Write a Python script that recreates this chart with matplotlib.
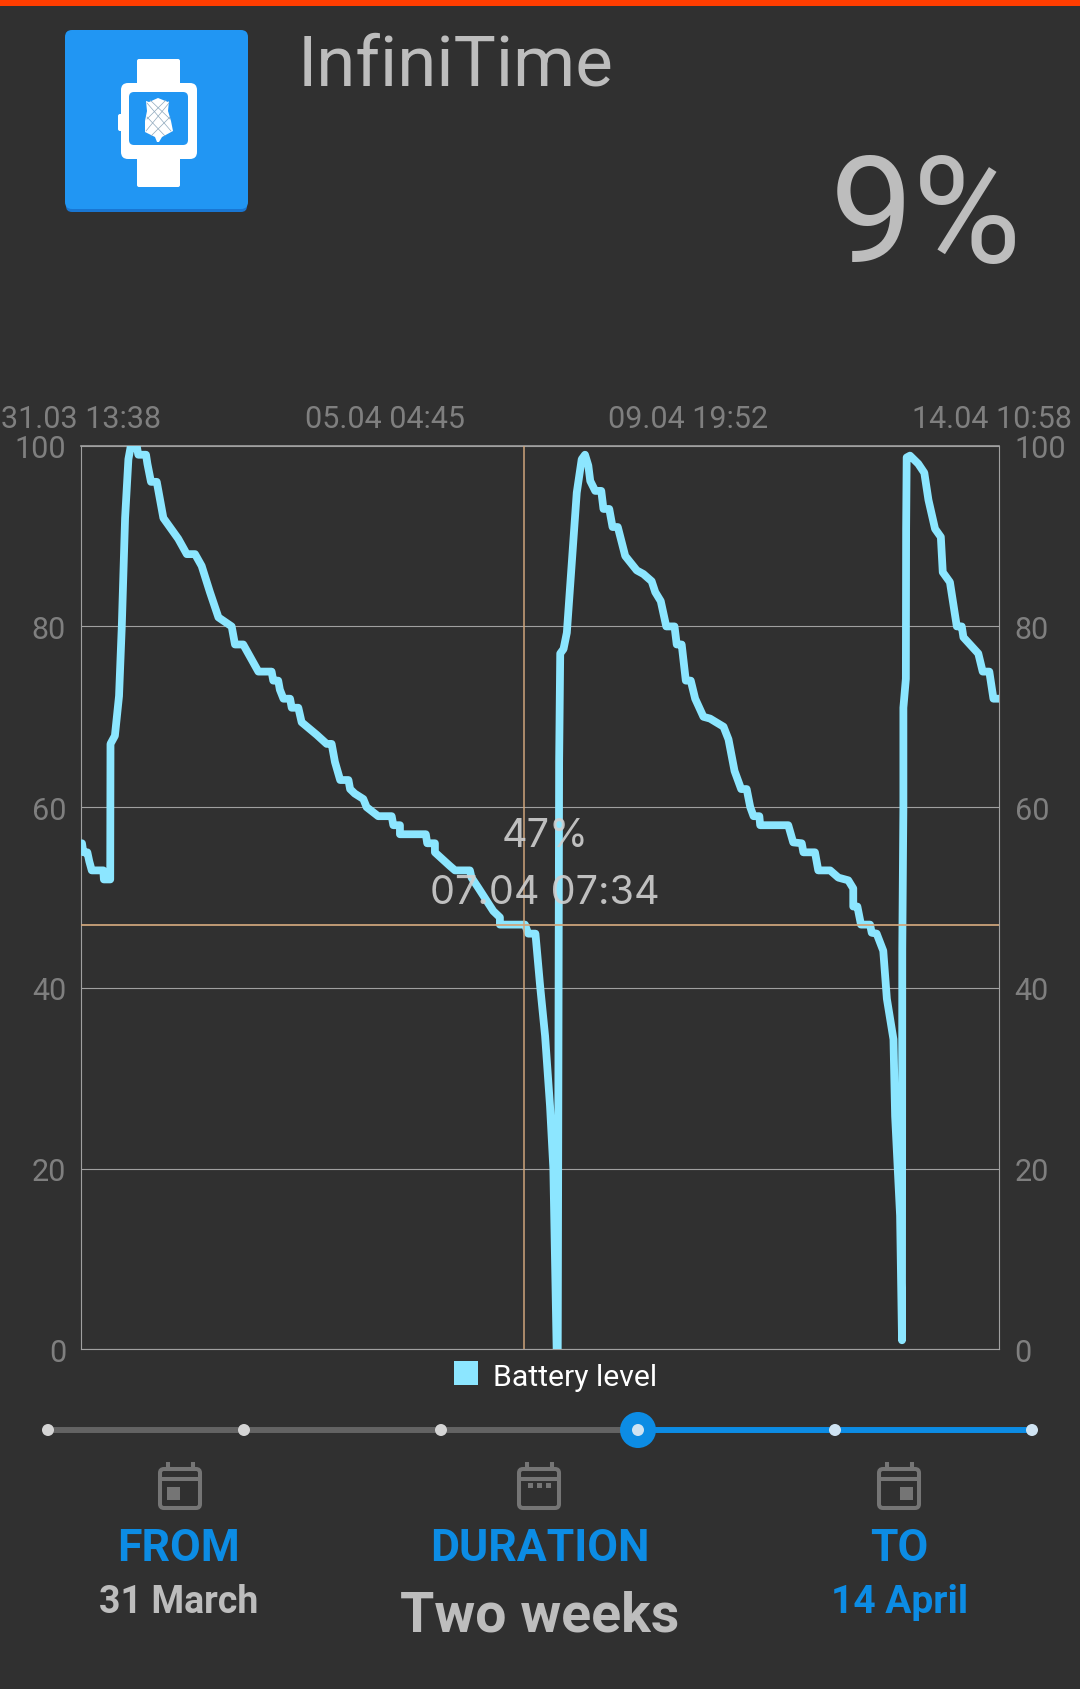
import matplotlib
matplotlib.use("Agg")
import matplotlib.pyplot as plt
from matplotlib.patches import FancyBboxPatch, Rectangle, Polygon, Circle

hours = [0.25, 0.74, 2.2, 2.9, 3.8, 8.0, 8.2, 10.5, 10.6, 12.2, 13.7, 14.7, 15.9, 17.1, 18.0, 20.1, 20.7,
         23.5, 24.0, 25.3, 27.4, 29.8, 35.2, 38.3, 41.3, 43.7, 46.7, 49.8, 54.6, 55.8, 58.8, 64.3, 69.1,
         69.7, 71.5, 72.1, 73.4, 75.8, 76.4, 78.8, 80.0, 85.5, 89.1, 90.9, 92.1, 94.0, 97.0, 97.6, 99.3,
         102.4, 103.6, 107.8, 112.7, 113.3, 115.7, 115.7, 125.1, 125.6, 128.4, 128.4, 133.8, 135.7, 141.1,
         141.7, 144.1, 149.6, 152.0, 152.0, 161.1, 162.3, 164.9, 166.6, 168.4, 170.2, 171.4, 172.6,
         173.0, 173.5, 173.9, 175.1, 176.3, 178.1, 179.9, 181.7, 182.9, 184.1, 184.8, 186.6, 188.8, 189.6,
         191.7, 192.9, 194.8, 197.5, 201.7, 204.1, 207.1, 208.4, 210.4, 212.4, 215.4, 216.2, 218.0, 219.5,
         221.3, 222.9, 225.9, 228.3, 233.2, 235.0, 237.2, 239.6, 241.6, 242.9, 244.1, 246.2, 246.5, 256.7,
         258.5, 261.6, 262.2, 266.4, 267.6, 271.9, 274.9, 278.5, 280.3, 280.3, 281.8, 283.1, 286.4, 287.0,
         288.8, 291.2, 292.5, 294.9, 295.5, 297.3, 298.0, 298.1, 298.5, 298.5, 299.4, 299.5, 299.7, 300.9,
         303.9, 306.1, 307.6, 310.0, 312.1, 312.8, 315.4, 317.9, 319.7, 320.3, 325.7, 327.3, 329.7, 331.2, 333.3]
battery = [56, 55, 55, 54, 53, 53, 52, 52, 67, 67.9, 72.3, 80, 92, 98.5, 100, 100, 99,
           99, 98, 96, 96, 92, 89.7, 88, 88, 86.7, 83.8, 81, 80, 78, 78, 75, 75,
           74, 74, 73, 72, 72, 71, 71, 69.4, 68, 67, 67, 65, 63, 63, 62, 61.5,
           60.9, 60, 59, 59, 58, 58, 57, 57, 56, 56, 55, 53.5, 53, 53,
           52.2, 51.1, 48.5, 47.8, 47, 47, 46, 46, 40.2, 34.7, 26.9, 20, 0,
           0, 65, 77, 77.5, 79.3, 87, 94.8, 98.5, 99, 97.8, 96.1, 95, 95, 93,
           93, 91, 91, 87.8, 86.2, 85.8, 85, 83.8, 82.8, 80, 80, 78, 78, 74,
           74, 72, 70, 69.8, 68.9, 67.5, 64, 62, 62, 60, 59, 59, 58, 58,
           56.1, 56, 55, 55, 53, 53, 52.2, 51.9, 51, 49, 49, 47, 47, 46.1,
           46, 44.1, 38.8, 34.3, 25.8, 14.8, 1, 44.3, 60, 71, 74.2, 90.8, 98.7, 98.9,
           98, 97, 94, 90.8, 89.9, 86, 84.9, 80, 80, 78.8, 77, 75, 75, 72, 72]
x_tick_hours = [0, 110.4, 220.3, 330.6]
x_tick_labels = ["31.03 13:38", "05.04 04:45", "09.04 19:52", "14.04 10:58"]
y_ticks = [0, 20, 40, 60, 80, 100]
cursor_hour = 160.7
cursor_value = 47
slider_stops = [48, 244, 441, 638, 835, 1032]

BG = "#303030"
BLUE = "#0C8CE4"
LIGHT = "#BDBDBD"
TICK = "#7F7F7F"
GRID = "#A0A0A0"
LINE = "#8CE6FF"
CURSOR = "#D0A67C"
UI = "Roboto"

W, H = 1080, 1690
fig = plt.figure(figsize=(W / 100, H / 100), dpi=100, facecolor=BG)

L, R, T, B = 81.3, 999.3, 446.7, 1350.3
ax = fig.add_axes([L / W, 1 - B / H, (R - L) / W, (B - T) / H], facecolor=BG)
ax.plot(hours, battery, color=LINE, lw=5.6, solid_joinstyle="round", solid_capstyle="round", zorder=3)
ax.set_xlim(0, 333.33)
ax.set_ylim(0, 100)
ax.set_yticks(y_ticks)
ax.set_xticks(x_tick_hours)
ax.set_xticklabels(x_tick_labels)
ax.grid(axis="y", color=GRID, lw=0.8)
ax.grid(axis="x", visible=False)
ax.set_axisbelow(True)
ax.tick_params(axis="y", length=0, pad=11, labelsize=22, labelcolor=TICK, labelright=True, right=False, left=False)
ax.tick_params(axis="x", length=0, pad=9, labelsize=22, labelcolor=TICK, labeltop=True, labelbottom=False, top=False, bottom=False)
for s in ax.spines.values():
    s.set_color(GRID)
    s.set_linewidth(0.8)
ax.spines["top"].set_linewidth(1.2)
ax.axvline(cursor_hour, color=CURSOR, lw=1.2, zorder=4, alpha=0.9)
ax.axhline(cursor_value, color=CURSOR, lw=1.4, zorder=4, alpha=0.9)
for lab in ax.get_xticklabels() + ax.get_yticklabels():
    lab.set_family(UI)

ui = fig.add_axes([0, 0, 1, 1], facecolor="none", zorder=5)
ui.set_xlim(0, W)
ui.set_ylim(H, 0)
ui.axis("off")

ui.add_patch(Rectangle((0, 0), W, 7, fc="#FF3D00", ec="none"))

# App icon
ui.add_patch(FancyBboxPatch((66, 34), 181, 179, boxstyle="round,pad=0,rounding_size=6", fc="#1976D2", ec="none"))
ui.add_patch(FancyBboxPatch((65, 31), 183, 179, boxstyle="round,pad=0,rounding_size=7", fc="#2196F3", ec="none"))
ui.add_patch(FancyBboxPatch((137, 60), 43, 128, boxstyle="round,pad=0,rounding_size=2", fc="white", ec="none"))
ui.add_patch(FancyBboxPatch((121, 84), 76, 76, boxstyle="round,pad=0,rounding_size=7", fc="white", ec="none"))
ui.add_patch(FancyBboxPatch((118, 115), 5, 17, boxstyle="round,pad=0,rounding_size=2", fc="white", ec="none"))
ui.add_patch(FancyBboxPatch((129, 93), 59, 53, boxstyle="round,pad=0,rounding_size=5", fc="#2196F3", ec="none"))
ui.add_patch(Polygon([(158, 99), (168, 103), (169, 102), (168, 112), (171, 122), (173, 132), (162, 138),
                      (159, 143), (157, 143), (155, 138), (145, 133), (145, 122), (147, 112), (146, 102), (149, 103)],
                     fc="white", ec="none"))
for a, b in [((147, 104), (171, 132)), ((169, 104), (146, 132)), ((150, 101), (170, 120)), ((166, 101), (147, 120)),
             ((147, 118), (165, 137)), ((170, 118), (151, 137))]:
    ui.plot([a[0], b[0]], [a[1], b[1]], color="#8FA8BC", lw=0.5)

ui.text(298, 86, "InfiniTime", fontsize=51, color=LIGHT, family=UI, va="baseline", ha="left")
ui.text(1022, 262, "9%", fontsize=107, color=LIGHT, family=UI, va="baseline", ha="right")

ui.text(545, 837, "47%", fontsize=28.5, color="#D0D0D0", family="Inter", va="center", ha="center", alpha=0.9)
ui.text(545, 894, "07.04 07:34", fontsize=28.5, color="#D0D0D0", family="Inter", va="center", ha="center", alpha=0.9)

# Legend
ui.add_patch(Rectangle((454, 1362), 24, 24, fc=LINE, ec="none"))
ui.text(493, 1386, "Battery level", fontsize=21.7, color="white", family=UI, va="baseline", ha="left")

# Slider
ui.plot([slider_stops[0], slider_stops[3]], [1431, 1431], color="#636363", lw=4.3, solid_capstyle="butt")
ui.plot([slider_stops[3], slider_stops[5]], [1431, 1431], color=BLUE, lw=4.3, solid_capstyle="butt")
ui.add_patch(Circle((slider_stops[3], 1431), 18, fc=BLUE, ec="none", zorder=6))
for i, sx in enumerate(slider_stops):
    ui.add_patch(Circle((sx, 1431), 6, fc="#D4D4D4" if i < 3 else "#CFE3F2", ec="none", zorder=7))


def calendar(cx, kind):
    c = "#757575"
    x0, x1, y0, y1 = cx - 20, cx + 20, 1470, 1509
    ui.add_patch(FancyBboxPatch((x0, y0), x1 - x0, y1 - y0, boxstyle="round,pad=0,rounding_size=4",
                                fc="none", ec=c, lw=2.9))
    ui.plot([x0, x1], [1480, 1480], color=c, lw=2.9, solid_capstyle="butt")
    for ex in (cx - 12.5, cx + 12.5):
        ui.plot([ex, ex], [1463, 1469], color=c, lw=2.9, solid_capstyle="butt")
    if kind == "left":
        ui.add_patch(Rectangle((cx - 13, 1488), 13, 13, fc=c, ec="none"))
    elif kind == "right":
        ui.add_patch(Rectangle((cx + 1, 1488), 13, 13, fc=c, ec="none"))
    else:
        for dx in (cx - 11, cx - 2, cx + 7):
            ui.add_patch(Rectangle((dx, 1484), 4.5, 5, fc=c, ec="none"))


calendar(180, "left")
calendar(539, "mid")
calendar(899, "right")

ui.text(179, 1561, "FROM", fontsize=32, color=BLUE, family=UI, fontweight="bold", va="baseline", ha="center")
ui.text(540, 1561, "DURATION", fontsize=32, color=BLUE, family=UI, fontweight="bold", va="baseline", ha="center")
ui.text(899, 1561, "TO", fontsize=32, color=BLUE, family=UI, fontweight="bold", va="baseline", ha="center")
ui.text(179, 1613, "31 March", fontsize=27, color=LIGHT, family=UI, fontweight="bold", va="baseline", ha="center")
ui.text(900, 1613, "14 April", fontsize=28, color=BLUE, family=UI, fontweight="bold", va="baseline", ha="center")
ui.text(540, 1632, "Two weeks", fontsize=40, color=LIGHT, family=UI, fontweight="bold", va="baseline", ha="center")

fig.savefig("out.png", dpi=100, facecolor=BG)
